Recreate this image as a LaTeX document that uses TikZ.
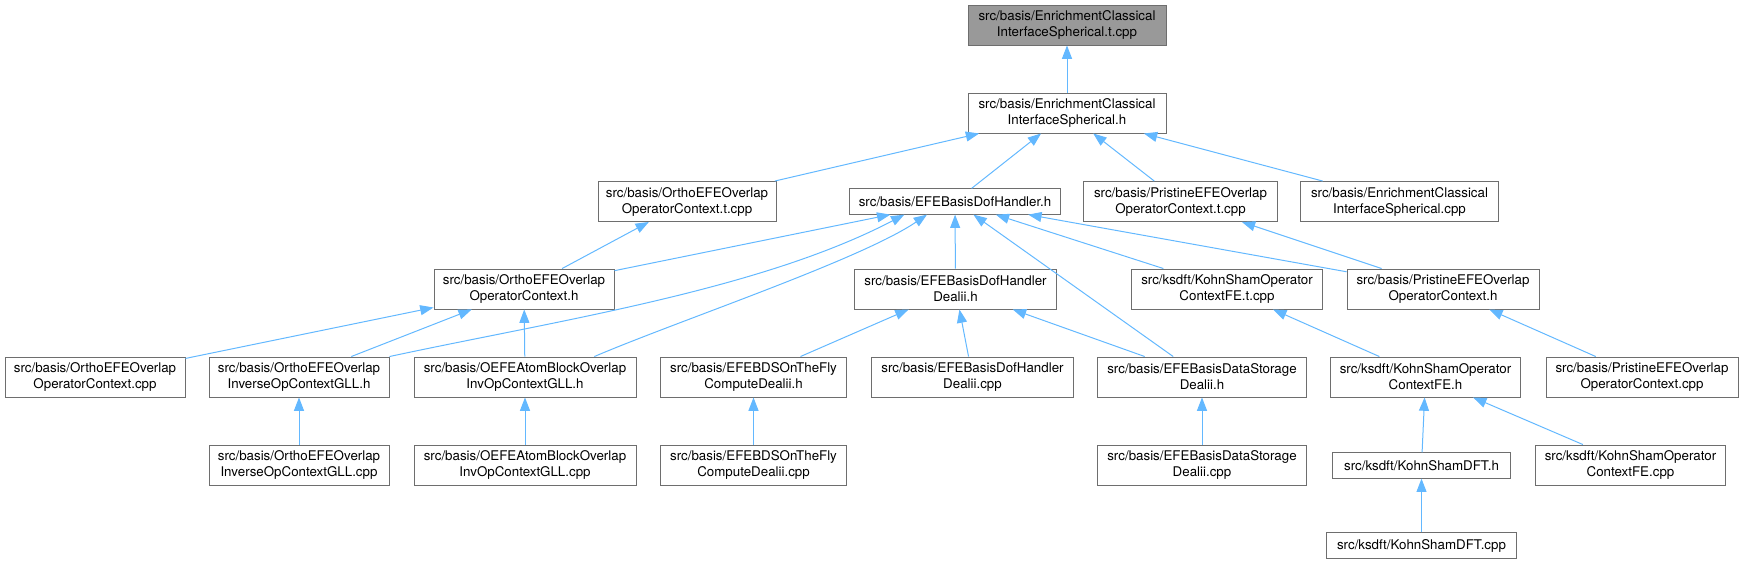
\documentclass[tikz,border=0pt]{standalone}
\usepackage{fontspec}
\setmainfont{TeX Gyre Heros}
\definecolor{boxgray}{RGB}{110, 110, 110}
\definecolor{rootgray}{RGB}{153, 153, 153}
\definecolor{depblue}{RGB}{99, 184, 255}
\usetikzlibrary{arrows.meta}

\begin{document}
\begin{tikzpicture}[
        x=0.75pt, y=-0.75pt,
        file/.style={rectangle, draw=boxgray, line width=0.7pt, fill=white, align=center, inner sep=0pt, minimum height=30pt, font=\fontsize{10}{12}\selectfont},
        flat/.style={file, minimum height=19pt},
        root/.style={file, fill=rootgray},
        dep/.style={draw=depblue, line width=0.75pt, -{Triangle[length=10pt, width=7.5pt]}}
    ]
        \useasboundingbox (0,0) rectangle (1743,564);

        % Top
        \node[root, minimum width=148.5pt] (root) at (1067,25) {src/basis/EnrichmentClassical\\InterfaceSpherical.t.cpp};
        \node[file, minimum width=148.5pt] (inth) at (1067,113) {src/basis/EnrichmentClassical\\InterfaceSpherical.h};

        % Row 2
        \node[file, minimum width=133.5pt] (orthotcpp) at (687,201.5) {src/basis/OrthoEFEOverlap\\OperatorContext.t.cpp};
        \node[flat, minimum width=158pt] (dofh) at (955,201.5) {src/basis/EFEBasisDofHandler.h};
        \node[file, minimum width=145pt] (pristtcpp) at (1180.5,201.5) {src/basis/PristineEFEOverlap\\OperatorContext.t.cpp};
        \node[file, minimum width=148pt] (enrichcpp) at (1399.5,201.5) {src/basis/EnrichmentClassical\\InterfaceSpherical.cpp};

        % Row 3
        \node[file, minimum width=135pt] (orthoh) at (524,289) {src/basis/OrthoEFEOverlap\\OperatorContext.h};
        \node[file, minimum width=151pt] (dealiih) at (955.5,289) {src/basis/EFEBasisDofHandler\\Dealii.h};
        \node[file, minimum width=143pt] (kstcpp) at (1227,289) {src/ksdft/KohnShamOperator\\ContextFE.t.cpp};
        \node[file, minimum width=144pt] (pristh) at (1443,289) {src/basis/PristineEFEOverlap\\OperatorContext.h};

        % Row 4
        \node[file, minimum width=135pt] (orthocpp) at (95,377) {src/basis/OrthoEFEOverlap\\OperatorContext.cpp};
        \node[file, minimum width=135pt] (invgllh) at (299,377) {src/basis/OrthoEFEOverlap\\InverseOpContextGLL.h};
        \node[file, minimum width=166.5pt] (oefeh) at (525,377) {src/basis/OEFEAtomBlockOverlap\\InvOpContextGLL.h};
        \node[file, minimum width=140pt] (bdsh) at (753.5,377) {src/basis/EFEBDSOnTheFly\\ComputeDealii.h};
        \node[file, minimum width=151pt] (dealiicpp) at (972.5,377) {src/basis/EFEBasisDofHandler\\Dealii.cpp};
        \node[file, minimum width=157pt] (storeh) at (1202,377) {src/basis/EFEBasisDataStorage\\Dealii.h};
        \node[file, minimum width=143pt] (ksfeh) at (1425.5,377) {src/ksdft/KohnShamOperator\\ContextFE.h};
        \node[file, minimum width=144pt] (pristcpp) at (1642,377) {src/basis/PristineEFEOverlap\\OperatorContext.cpp};

        % Row 5
        \node[file, minimum width=135pt] (invgllcpp) at (299,465) {src/basis/OrthoEFEOverlap\\InverseOpContextGLL.cpp};
        \node[file, minimum width=166.5pt] (oefecpp) at (525,465) {src/basis/OEFEAtomBlockOverlap\\InvOpContextGLL.cpp};
        \node[file, minimum width=140pt] (bdscpp) at (753.5,465) {src/basis/EFEBDSOnTheFly\\ComputeDealii.cpp};
        \node[file, minimum width=157pt] (storecpp) at (1202,465) {src/basis/EFEBasisDataStorage\\Dealii.cpp};
        \node[flat, minimum width=133pt] (dfth) at (1421.5,465.5) {src/ksdft/KohnShamDFT.h};
        \node[file, minimum width=143pt] (ksfecpp) at (1630.5,465) {src/ksdft/KohnShamOperator\\ContextFE.cpp};

        % Row 6
        \node[flat, minimum width=143pt] (dftcpp) at (1421.5,545.5) {src/ksdft/KohnShamDFT.cpp};

        % Includes into the top files
        \draw[dep] (inth) -- (root);
        \draw[dep] (orthotcpp) -- (inth);
        \draw[dep] (dofh) -- (inth);
        \draw[dep] (pristtcpp) -- (inth);
        \draw[dep] (enrichcpp) -- (inth);

        % Includes into row 2
        \draw[dep] (orthoh) -- (orthotcpp);
        \draw[dep] (orthoh) -- (dofh);
        \draw[dep] (invgllh.north east) .. controls (560,320) and (760,290) .. ([xshift=-38pt]dofh.south);
        \draw[dep] ([xshift=52pt]oefeh.north) .. controls (680,320) and (860,260) .. ([xshift=-21pt]dofh.south);
        \draw[dep] (dealiih) -- (dofh);
        \draw[dep] (storeh) -- (dofh);
        \draw[dep] (kstcpp) -- (dofh);
        \draw[dep] (pristh) -- (dofh);
        \draw[dep] (pristh) -- (pristtcpp);

        % Includes into row 3
        \draw[dep] (orthocpp) -- (orthoh);
        \draw[dep] (invgllh) -- (orthoh);
        \draw[dep] (oefeh) -- (orthoh);
        \draw[dep] (bdsh) -- (dealiih);
        \draw[dep] (dealiicpp) -- (dealiih);
        \draw[dep] (storeh) -- (dealiih);
        \draw[dep] (ksfeh) -- (kstcpp);
        \draw[dep] (pristcpp) -- (pristh);

        % Includes into rows 4 and 5
        \draw[dep] (invgllcpp) -- (invgllh);
        \draw[dep] (oefecpp) -- (oefeh);
        \draw[dep] (bdscpp) -- (bdsh);
        \draw[dep] (storecpp) -- (storeh);
        \draw[dep] (dfth) -- (ksfeh);
        \draw[dep] (ksfecpp) -- (ksfeh);
        \draw[dep] (dftcpp) -- (dfth);
    \end{tikzpicture}
\end{document}
